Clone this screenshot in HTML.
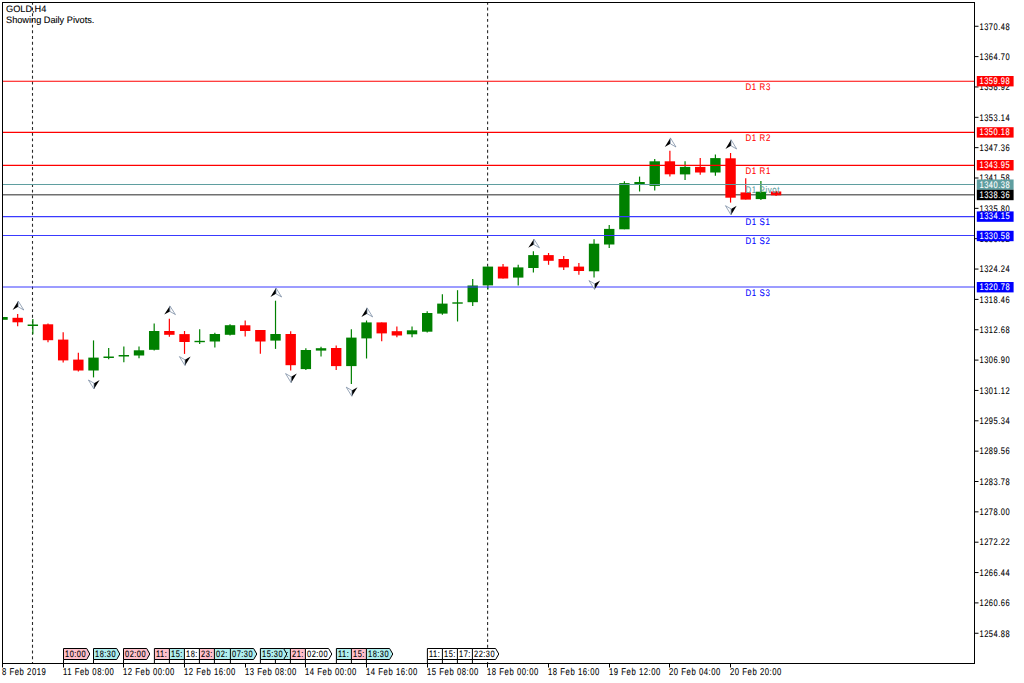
<!DOCTYPE html>
<html><head><meta charset="utf-8"><title>GOLD,H4</title>
<style>
html,body{margin:0;padding:0;background:#fff;}
body{width:1024px;height:683px;overflow:hidden;}
svg{display:block;}
text{font-family:"Liberation Sans", sans-serif;text-rendering:geometricPrecision;}
</style></head><body>
<svg width="1024" height="683" viewBox="0 0 1024 683">
<rect x="0" y="0" width="1024" height="683" fill="#fff"/>

<defs><clipPath id="ch"><rect x="3" y="3" width="971.0" height="660.0"/></clipPath></defs>
<g clip-path="url(#ch)">
<line x1="32.5" y1="3" x2="32.5" y2="663" stroke="#2a2a2a" stroke-width="1.1" stroke-dasharray="2.9 2.79" stroke-dashoffset="1.1"/>
<line x1="487.6" y1="3" x2="487.6" y2="663" stroke="#2a2a2a" stroke-width="1.1" stroke-dasharray="2.9 2.79" stroke-dashoffset="1.1"/>
<line x1="3" y1="194.8" x2="974.5" y2="194.8" stroke="#707070" stroke-width="1.5"/>
<line x1="2.50" y1="317.0" x2="2.50" y2="319.8" stroke="#008000" stroke-width="1.2"/>
<rect x="-2.70" y="317.0" width="10.40" height="2.80" fill="#008000"/>
<line x1="17.67" y1="314.0" x2="17.67" y2="326.3" stroke="#ff0000" stroke-width="1.2"/>
<rect x="12.47" y="317.8" width="10.40" height="4.50" fill="#ff0000"/>
<line x1="32.84" y1="319.0" x2="32.84" y2="334.3" stroke="#008000" stroke-width="1.2"/>
<rect x="27.64" y="324.5" width="10.40" height="1.50" fill="#008000"/>
<line x1="48.00" y1="323.5" x2="48.00" y2="342.3" stroke="#ff0000" stroke-width="1.2"/>
<rect x="42.80" y="324.3" width="10.40" height="15.90" fill="#ff0000"/>
<line x1="63.17" y1="332.2" x2="63.17" y2="362.5" stroke="#ff0000" stroke-width="1.2"/>
<rect x="57.97" y="339.6" width="10.40" height="20.80" fill="#ff0000"/>
<line x1="78.34" y1="352.8" x2="78.34" y2="371.6" stroke="#ff0000" stroke-width="1.2"/>
<rect x="73.14" y="359.6" width="10.40" height="10.90" fill="#ff0000"/>
<line x1="93.51" y1="340.4" x2="93.51" y2="377.4" stroke="#008000" stroke-width="1.2"/>
<rect x="88.31" y="357.6" width="10.40" height="12.90" fill="#008000"/>
<line x1="108.68" y1="348.0" x2="108.68" y2="359.2" stroke="#008000" stroke-width="1.2"/>
<rect x="103.48" y="356.5" width="10.40" height="1.50" fill="#008000"/>
<line x1="123.84" y1="346.4" x2="123.84" y2="362.2" stroke="#008000" stroke-width="1.2"/>
<rect x="118.64" y="355.0" width="10.40" height="1.50" fill="#008000"/>
<line x1="139.01" y1="346.4" x2="139.01" y2="358.2" stroke="#008000" stroke-width="1.2"/>
<rect x="133.81" y="350.3" width="10.40" height="5.20" fill="#008000"/>
<line x1="154.18" y1="323.4" x2="154.18" y2="350.6" stroke="#008000" stroke-width="1.2"/>
<rect x="148.98" y="331.0" width="10.40" height="18.80" fill="#008000"/>
<line x1="169.35" y1="318.8" x2="169.35" y2="336.7" stroke="#ff0000" stroke-width="1.2"/>
<rect x="164.15" y="331.0" width="10.40" height="3.80" fill="#ff0000"/>
<line x1="184.52" y1="331.0" x2="184.52" y2="353.9" stroke="#ff0000" stroke-width="1.2"/>
<rect x="179.32" y="334.1" width="10.40" height="7.90" fill="#ff0000"/>
<line x1="199.68" y1="329.2" x2="199.68" y2="344.1" stroke="#008000" stroke-width="1.2"/>
<rect x="194.48" y="340.8" width="10.40" height="1.40" fill="#008000"/>
<line x1="214.85" y1="332.7" x2="214.85" y2="347.6" stroke="#008000" stroke-width="1.2"/>
<rect x="209.65" y="334.0" width="10.40" height="7.50" fill="#008000"/>
<line x1="230.02" y1="324.3" x2="230.02" y2="335.5" stroke="#008000" stroke-width="1.2"/>
<rect x="224.82" y="325.2" width="10.40" height="9.60" fill="#008000"/>
<line x1="245.19" y1="320.4" x2="245.19" y2="336.6" stroke="#ff0000" stroke-width="1.2"/>
<rect x="239.99" y="325.3" width="10.40" height="5.70" fill="#ff0000"/>
<line x1="260.36" y1="330.0" x2="260.36" y2="353.8" stroke="#ff0000" stroke-width="1.2"/>
<rect x="255.16" y="330.0" width="10.40" height="11.50" fill="#ff0000"/>
<line x1="275.52" y1="300.7" x2="275.52" y2="348.9" stroke="#008000" stroke-width="1.2"/>
<rect x="270.32" y="334.0" width="10.40" height="6.60" fill="#008000"/>
<line x1="290.69" y1="331.3" x2="290.69" y2="370.5" stroke="#ff0000" stroke-width="1.2"/>
<rect x="285.49" y="334.0" width="10.40" height="31.20" fill="#ff0000"/>
<line x1="305.86" y1="348.2" x2="305.86" y2="370.0" stroke="#008000" stroke-width="1.2"/>
<rect x="300.66" y="350.0" width="10.40" height="19.10" fill="#008000"/>
<line x1="321.03" y1="346.8" x2="321.03" y2="356.4" stroke="#008000" stroke-width="1.2"/>
<rect x="315.83" y="348.2" width="10.40" height="2.40" fill="#008000"/>
<line x1="336.20" y1="345.4" x2="336.20" y2="370.0" stroke="#ff0000" stroke-width="1.2"/>
<rect x="331.00" y="348.0" width="10.40" height="18.10" fill="#ff0000"/>
<line x1="351.36" y1="329.2" x2="351.36" y2="384.0" stroke="#008000" stroke-width="1.2"/>
<rect x="346.16" y="337.6" width="10.40" height="28.50" fill="#008000"/>
<line x1="366.53" y1="320.5" x2="366.53" y2="358.5" stroke="#008000" stroke-width="1.2"/>
<rect x="361.33" y="322.4" width="10.40" height="16.00" fill="#008000"/>
<line x1="381.70" y1="322.4" x2="381.70" y2="341.2" stroke="#ff0000" stroke-width="1.2"/>
<rect x="376.50" y="322.4" width="10.40" height="11.00" fill="#ff0000"/>
<line x1="396.87" y1="326.4" x2="396.87" y2="337.3" stroke="#ff0000" stroke-width="1.2"/>
<rect x="391.67" y="331.2" width="10.40" height="4.30" fill="#ff0000"/>
<line x1="412.04" y1="326.4" x2="412.04" y2="337.3" stroke="#008000" stroke-width="1.2"/>
<rect x="406.84" y="330.3" width="10.40" height="4.00" fill="#008000"/>
<line x1="427.20" y1="311.3" x2="427.20" y2="332.4" stroke="#008000" stroke-width="1.2"/>
<rect x="422.00" y="313.0" width="10.40" height="18.70" fill="#008000"/>
<line x1="442.37" y1="294.3" x2="442.37" y2="314.8" stroke="#008000" stroke-width="1.2"/>
<rect x="437.17" y="303.6" width="10.40" height="10.00" fill="#008000"/>
<line x1="457.54" y1="290.2" x2="457.54" y2="321.5" stroke="#008000" stroke-width="1.2"/>
<rect x="452.34" y="302.3" width="10.40" height="1.40" fill="#008000"/>
<line x1="472.71" y1="279.0" x2="472.71" y2="306.0" stroke="#008000" stroke-width="1.2"/>
<rect x="467.51" y="285.5" width="10.40" height="16.70" fill="#008000"/>
<line x1="487.88" y1="266.6" x2="487.88" y2="289.4" stroke="#008000" stroke-width="1.2"/>
<rect x="482.68" y="266.6" width="10.40" height="18.80" fill="#008000"/>
<line x1="503.04" y1="263.9" x2="503.04" y2="278.5" stroke="#ff0000" stroke-width="1.2"/>
<rect x="497.84" y="266.6" width="10.40" height="11.90" fill="#ff0000"/>
<line x1="518.21" y1="264.8" x2="518.21" y2="285.4" stroke="#008000" stroke-width="1.2"/>
<rect x="513.01" y="267.4" width="10.40" height="10.20" fill="#008000"/>
<line x1="533.38" y1="251.3" x2="533.38" y2="272.4" stroke="#008000" stroke-width="1.2"/>
<rect x="528.18" y="255.1" width="10.40" height="12.90" fill="#008000"/>
<line x1="548.55" y1="253.0" x2="548.55" y2="264.8" stroke="#ff0000" stroke-width="1.2"/>
<rect x="543.35" y="255.1" width="10.40" height="5.70" fill="#ff0000"/>
<line x1="563.72" y1="256.0" x2="563.72" y2="270.0" stroke="#ff0000" stroke-width="1.2"/>
<rect x="558.52" y="259.0" width="10.40" height="8.40" fill="#ff0000"/>
<line x1="578.88" y1="263.0" x2="578.88" y2="274.8" stroke="#ff0000" stroke-width="1.2"/>
<rect x="573.68" y="266.6" width="10.40" height="4.40" fill="#ff0000"/>
<line x1="594.05" y1="239.3" x2="594.05" y2="277.6" stroke="#008000" stroke-width="1.2"/>
<rect x="588.85" y="243.7" width="10.40" height="27.60" fill="#008000"/>
<line x1="609.22" y1="224.9" x2="609.22" y2="248.1" stroke="#008000" stroke-width="1.2"/>
<rect x="604.02" y="228.9" width="10.40" height="15.60" fill="#008000"/>
<line x1="624.39" y1="181.3" x2="624.39" y2="229.3" stroke="#008000" stroke-width="1.2"/>
<rect x="619.19" y="183.1" width="10.40" height="46.20" fill="#008000"/>
<line x1="639.56" y1="176.6" x2="639.56" y2="191.5" stroke="#008000" stroke-width="1.2"/>
<rect x="634.36" y="182.0" width="10.40" height="2.00" fill="#008000"/>
<line x1="654.72" y1="159.0" x2="654.72" y2="190.6" stroke="#008000" stroke-width="1.2"/>
<rect x="649.52" y="161.3" width="10.40" height="24.60" fill="#008000"/>
<line x1="669.89" y1="150.7" x2="669.89" y2="176.6" stroke="#ff0000" stroke-width="1.2"/>
<rect x="664.69" y="161.3" width="10.40" height="13.00" fill="#ff0000"/>
<line x1="685.06" y1="161.3" x2="685.06" y2="180.1" stroke="#008000" stroke-width="1.2"/>
<rect x="679.86" y="166.9" width="10.40" height="7.50" fill="#008000"/>
<line x1="700.23" y1="158.1" x2="700.23" y2="174.8" stroke="#ff0000" stroke-width="1.2"/>
<rect x="695.03" y="166.9" width="10.40" height="5.60" fill="#ff0000"/>
<line x1="715.40" y1="154.6" x2="715.40" y2="175.7" stroke="#008000" stroke-width="1.2"/>
<rect x="710.20" y="158.1" width="10.40" height="14.40" fill="#008000"/>
<line x1="730.56" y1="153.0" x2="730.56" y2="202.6" stroke="#ff0000" stroke-width="1.2"/>
<rect x="725.36" y="158.3" width="10.40" height="39.40" fill="#ff0000"/>
<line x1="745.73" y1="178.3" x2="745.73" y2="199.6" stroke="#ff0000" stroke-width="1.2"/>
<rect x="740.53" y="192.4" width="10.40" height="7.20" fill="#ff0000"/>
<line x1="760.90" y1="181.1" x2="760.90" y2="199.9" stroke="#008000" stroke-width="1.2"/>
<rect x="755.70" y="191.7" width="10.40" height="7.40" fill="#008000"/>
<line x1="776.07" y1="191.0" x2="776.07" y2="196.0" stroke="#ff0000" stroke-width="1.2"/>
<rect x="770.87" y="191.5" width="10.40" height="3.80" fill="#ff0000"/>
<line x1="3" y1="81.2" x2="974.5" y2="81.2" stroke="#ff0000" stroke-width="1.1"/>
<line x1="3" y1="132.4" x2="974.5" y2="132.4" stroke="#ff0000" stroke-width="1.1"/>
<line x1="3" y1="165.4" x2="974.5" y2="165.4" stroke="#ff0000" stroke-width="1.1"/>
<line x1="3" y1="184.5" x2="974.5" y2="184.5" stroke="#5f9ea0" stroke-width="1.1"/>
<line x1="3" y1="216.6" x2="974.5" y2="216.6" stroke="#3a3aff" stroke-width="1.1"/>
<line x1="3" y1="235.5" x2="974.5" y2="235.5" stroke="#3a3aff" stroke-width="1.1"/>
<line x1="3" y1="287.0" x2="974.5" y2="287.0" stroke="#3a3aff" stroke-width="1.1"/>
<text transform="translate(745.50,89.70) scale(0.82,1)" font-size="9.6" fill="#ff0000" stroke="#ff0000" stroke-width="0.1" letter-spacing="0.75">D1 R3</text>
<text transform="translate(745.50,140.90) scale(0.82,1)" font-size="9.6" fill="#ff0000" stroke="#ff0000" stroke-width="0.1" letter-spacing="0.75">D1 R2</text>
<text transform="translate(745.50,173.90) scale(0.82,1)" font-size="9.6" fill="#ff0000" stroke="#ff0000" stroke-width="0.1" letter-spacing="0.75">D1 R1</text>
<text transform="translate(745.50,193.00) scale(0.82,1)" font-size="9.6" fill="#5f9ea0" stroke="#5f9ea0" stroke-width="0.1" letter-spacing="0.75">D1 Pivot</text>
<text transform="translate(745.50,225.10) scale(0.82,1)" font-size="9.6" fill="#0000ff" stroke="#0000ff" stroke-width="0.1" letter-spacing="0.75">D1 S1</text>
<text transform="translate(745.50,244.00) scale(0.82,1)" font-size="9.6" fill="#0000ff" stroke="#0000ff" stroke-width="0.1" letter-spacing="0.75">D1 S2</text>
<text transform="translate(745.50,295.50) scale(0.82,1)" font-size="9.6" fill="#0000ff" stroke="#0000ff" stroke-width="0.1" letter-spacing="0.75">D1 S3</text>
<path d="M18.17,301.00 L12.57,310.00 L18.17,306.80 Z" fill="#000"/>
<path d="M18.17,301.00 L23.77,310.00 L18.17,306.80 Z" fill="#fff" stroke="#6b7f9a" stroke-width="0.7"/>
<path d="M94.01,389.00 L99.61,380.00 L94.01,383.20 Z" fill="#000"/>
<path d="M94.01,389.00 L88.41,380.00 L94.01,383.20 Z" fill="#fff" stroke="#6b7f9a" stroke-width="0.7"/>
<path d="M169.85,305.90 L164.25,314.60 L169.85,311.40 Z" fill="#000"/>
<path d="M169.85,305.90 L175.45,314.60 L169.85,311.40 Z" fill="#fff" stroke="#6b7f9a" stroke-width="0.7"/>
<path d="M185.02,365.60 L190.62,356.60 L185.02,359.80 Z" fill="#000"/>
<path d="M185.02,365.60 L179.42,356.60 L185.02,359.80 Z" fill="#fff" stroke="#6b7f9a" stroke-width="0.7"/>
<path d="M276.02,288.00 L270.42,297.00 L276.02,293.80 Z" fill="#000"/>
<path d="M276.02,288.00 L281.62,297.00 L276.02,293.80 Z" fill="#fff" stroke="#6b7f9a" stroke-width="0.7"/>
<path d="M291.19,382.80 L296.79,373.60 L291.19,376.80 Z" fill="#000"/>
<path d="M291.19,382.80 L285.59,373.60 L291.19,376.80 Z" fill="#fff" stroke="#6b7f9a" stroke-width="0.7"/>
<path d="M351.86,396.30 L357.46,387.20 L351.86,390.40 Z" fill="#000"/>
<path d="M351.86,396.30 L346.26,387.20 L351.86,390.40 Z" fill="#fff" stroke="#6b7f9a" stroke-width="0.7"/>
<path d="M367.03,307.80 L361.43,316.90 L367.03,313.70 Z" fill="#000"/>
<path d="M367.03,307.80 L372.63,316.90 L367.03,313.70 Z" fill="#fff" stroke="#6b7f9a" stroke-width="0.7"/>
<path d="M533.88,239.00 L528.28,247.80 L533.88,244.60 Z" fill="#000"/>
<path d="M533.88,239.00 L539.48,247.80 L533.88,244.60 Z" fill="#fff" stroke="#6b7f9a" stroke-width="0.7"/>
<path d="M594.55,289.40 L600.15,280.60 L594.55,283.80 Z" fill="#000"/>
<path d="M594.55,289.40 L588.95,280.60 L594.55,283.80 Z" fill="#fff" stroke="#6b7f9a" stroke-width="0.7"/>
<path d="M670.39,137.90 L664.79,147.00 L670.39,143.80 Z" fill="#000"/>
<path d="M670.39,137.90 L675.99,147.00 L670.39,143.80 Z" fill="#fff" stroke="#6b7f9a" stroke-width="0.7"/>
<path d="M731.06,139.70 L725.46,149.00 L731.06,145.80 Z" fill="#000"/>
<path d="M731.06,139.70 L736.66,149.00 L731.06,145.80 Z" fill="#fff" stroke="#6b7f9a" stroke-width="0.7"/>
<path d="M731.06,214.90 L736.66,205.70 L731.06,208.90 Z" fill="#000"/>
<path d="M731.06,214.90 L725.46,205.70 L731.06,208.90 Z" fill="#fff" stroke="#6b7f9a" stroke-width="0.7"/>
</g>
<text transform="translate(6.00,12.00) scale(0.98,1)" font-size="9.4" fill="#000" stroke="#000" stroke-width="0.1">GOLD,H4</text>
<text transform="translate(6.00,22.60) scale(0.98,1)" font-size="9.4" fill="#000" stroke="#000" stroke-width="0.1">Showing Daily Pivots.</text>
<rect x="2.5" y="2.5" width="972.0" height="661.0" fill="none" stroke="#000" stroke-width="1"/>
<line x1="974.5" y1="26.25" x2="978.5" y2="26.25" stroke="#000" stroke-width="1"/>
<text transform="translate(979.50,29.50) scale(0.78,1)" font-size="9.6" fill="#000" stroke="#000" stroke-width="0.1" letter-spacing="0.65">1370.48</text>
<line x1="974.5" y1="56.60" x2="978.5" y2="56.60" stroke="#000" stroke-width="1"/>
<text transform="translate(979.50,59.85) scale(0.78,1)" font-size="9.6" fill="#000" stroke="#000" stroke-width="0.1" letter-spacing="0.65">1364.70</text>
<line x1="974.5" y1="86.95" x2="978.5" y2="86.95" stroke="#000" stroke-width="1"/>
<text transform="translate(979.50,90.20) scale(0.78,1)" font-size="9.6" fill="#000" stroke="#000" stroke-width="0.1" letter-spacing="0.65">1358.92</text>
<line x1="974.5" y1="117.30" x2="978.5" y2="117.30" stroke="#000" stroke-width="1"/>
<text transform="translate(979.50,120.55) scale(0.78,1)" font-size="9.6" fill="#000" stroke="#000" stroke-width="0.1" letter-spacing="0.65">1353.14</text>
<line x1="974.5" y1="147.65" x2="978.5" y2="147.65" stroke="#000" stroke-width="1"/>
<text transform="translate(979.50,150.90) scale(0.78,1)" font-size="9.6" fill="#000" stroke="#000" stroke-width="0.1" letter-spacing="0.65">1347.36</text>
<line x1="974.5" y1="178.00" x2="978.5" y2="178.00" stroke="#000" stroke-width="1"/>
<text transform="translate(979.50,181.25) scale(0.78,1)" font-size="9.6" fill="#000" stroke="#000" stroke-width="0.1" letter-spacing="0.65">1341.58</text>
<line x1="974.5" y1="208.35" x2="978.5" y2="208.35" stroke="#000" stroke-width="1"/>
<text transform="translate(979.50,211.60) scale(0.78,1)" font-size="9.6" fill="#000" stroke="#000" stroke-width="0.1" letter-spacing="0.65">1335.80</text>
<line x1="974.5" y1="238.70" x2="978.5" y2="238.70" stroke="#000" stroke-width="1"/>
<text transform="translate(979.50,241.95) scale(0.78,1)" font-size="9.6" fill="#000" stroke="#000" stroke-width="0.1" letter-spacing="0.65">1330.02</text>
<line x1="974.5" y1="269.05" x2="978.5" y2="269.05" stroke="#000" stroke-width="1"/>
<text transform="translate(979.50,272.30) scale(0.78,1)" font-size="9.6" fill="#000" stroke="#000" stroke-width="0.1" letter-spacing="0.65">1324.24</text>
<line x1="974.5" y1="299.40" x2="978.5" y2="299.40" stroke="#000" stroke-width="1"/>
<text transform="translate(979.50,302.65) scale(0.78,1)" font-size="9.6" fill="#000" stroke="#000" stroke-width="0.1" letter-spacing="0.65">1318.46</text>
<line x1="974.5" y1="329.75" x2="978.5" y2="329.75" stroke="#000" stroke-width="1"/>
<text transform="translate(979.50,333.00) scale(0.78,1)" font-size="9.6" fill="#000" stroke="#000" stroke-width="0.1" letter-spacing="0.65">1312.68</text>
<line x1="974.5" y1="360.10" x2="978.5" y2="360.10" stroke="#000" stroke-width="1"/>
<text transform="translate(979.50,363.35) scale(0.78,1)" font-size="9.6" fill="#000" stroke="#000" stroke-width="0.1" letter-spacing="0.65">1306.90</text>
<line x1="974.5" y1="390.45" x2="978.5" y2="390.45" stroke="#000" stroke-width="1"/>
<text transform="translate(979.50,393.70) scale(0.78,1)" font-size="9.6" fill="#000" stroke="#000" stroke-width="0.1" letter-spacing="0.65">1301.12</text>
<line x1="974.5" y1="420.80" x2="978.5" y2="420.80" stroke="#000" stroke-width="1"/>
<text transform="translate(979.50,424.05) scale(0.78,1)" font-size="9.6" fill="#000" stroke="#000" stroke-width="0.1" letter-spacing="0.65">1295.34</text>
<line x1="974.5" y1="451.15" x2="978.5" y2="451.15" stroke="#000" stroke-width="1"/>
<text transform="translate(979.50,454.40) scale(0.78,1)" font-size="9.6" fill="#000" stroke="#000" stroke-width="0.1" letter-spacing="0.65">1289.56</text>
<line x1="974.5" y1="481.50" x2="978.5" y2="481.50" stroke="#000" stroke-width="1"/>
<text transform="translate(979.50,484.75) scale(0.78,1)" font-size="9.6" fill="#000" stroke="#000" stroke-width="0.1" letter-spacing="0.65">1283.78</text>
<line x1="974.5" y1="511.85" x2="978.5" y2="511.85" stroke="#000" stroke-width="1"/>
<text transform="translate(979.50,515.10) scale(0.78,1)" font-size="9.6" fill="#000" stroke="#000" stroke-width="0.1" letter-spacing="0.65">1278.00</text>
<line x1="974.5" y1="542.20" x2="978.5" y2="542.20" stroke="#000" stroke-width="1"/>
<text transform="translate(979.50,545.45) scale(0.78,1)" font-size="9.6" fill="#000" stroke="#000" stroke-width="0.1" letter-spacing="0.65">1272.22</text>
<line x1="974.5" y1="572.55" x2="978.5" y2="572.55" stroke="#000" stroke-width="1"/>
<text transform="translate(979.50,575.80) scale(0.78,1)" font-size="9.6" fill="#000" stroke="#000" stroke-width="0.1" letter-spacing="0.65">1266.44</text>
<line x1="974.5" y1="602.90" x2="978.5" y2="602.90" stroke="#000" stroke-width="1"/>
<text transform="translate(979.50,606.15) scale(0.78,1)" font-size="9.6" fill="#000" stroke="#000" stroke-width="0.1" letter-spacing="0.65">1260.66</text>
<line x1="974.5" y1="633.25" x2="978.5" y2="633.25" stroke="#000" stroke-width="1"/>
<text transform="translate(979.50,636.50) scale(0.78,1)" font-size="9.6" fill="#000" stroke="#000" stroke-width="0.1" letter-spacing="0.65">1254.88</text>
<rect x="976.8" y="76.0" width="36.8" height="10.4" fill="#ff0000"/>
<text transform="translate(979.50,84.00) scale(0.78,1)" font-size="9.6" fill="#fff" stroke="#fff" stroke-width="0.1" letter-spacing="0.65">1359.98</text>
<rect x="976.8" y="127.2" width="36.8" height="10.4" fill="#ff0000"/>
<text transform="translate(979.50,135.20) scale(0.78,1)" font-size="9.6" fill="#fff" stroke="#fff" stroke-width="0.1" letter-spacing="0.65">1350.18</text>
<rect x="976.8" y="160.0" width="36.8" height="10.4" fill="#ff0000"/>
<text transform="translate(979.50,168.00) scale(0.78,1)" font-size="9.6" fill="#fff" stroke="#fff" stroke-width="0.1" letter-spacing="0.65">1343.95</text>
<rect x="976.8" y="179.5" width="36.8" height="10.4" fill="#5f9ea0"/>
<text transform="translate(979.50,187.50) scale(0.78,1)" font-size="9.6" fill="#fff" stroke="#fff" stroke-width="0.1" letter-spacing="0.65">1340.38</text>
<rect x="976.8" y="189.8" width="36.8" height="10.4" fill="#000"/>
<text transform="translate(979.50,197.80) scale(0.78,1)" font-size="9.6" fill="#fff" stroke="#fff" stroke-width="0.1" letter-spacing="0.65">1338.36</text>
<rect x="976.8" y="211.4" width="36.8" height="10.4" fill="#0000ff"/>
<text transform="translate(979.50,219.40) scale(0.78,1)" font-size="9.6" fill="#fff" stroke="#fff" stroke-width="0.1" letter-spacing="0.65">1334.15</text>
<rect x="976.8" y="230.8" width="36.8" height="10.4" fill="#0000ff"/>
<text transform="translate(979.50,238.80) scale(0.78,1)" font-size="9.6" fill="#fff" stroke="#fff" stroke-width="0.1" letter-spacing="0.65">1330.58</text>
<rect x="976.8" y="282.0" width="36.8" height="10.4" fill="#0000ff"/>
<text transform="translate(979.50,290.00) scale(0.78,1)" font-size="9.6" fill="#fff" stroke="#fff" stroke-width="0.1" letter-spacing="0.65">1320.78</text>
<line x1="2.5" y1="663.5" x2="2.5" y2="667.5" stroke="#000" stroke-width="1"/>
<text transform="translate(2.00,675.40) scale(0.77,1)" font-size="10.0" fill="#000" stroke="#000" stroke-width="0.1" letter-spacing="0.7">8 Feb 2019</text>
<line x1="63.5" y1="663.5" x2="63.5" y2="667.5" stroke="#000" stroke-width="1"/>
<text transform="translate(63.00,675.40) scale(0.77,1)" font-size="10.0" fill="#000" stroke="#000" stroke-width="0.1" letter-spacing="0.7">11 Feb 08:00</text>
<line x1="123.5" y1="663.5" x2="123.5" y2="667.5" stroke="#000" stroke-width="1"/>
<text transform="translate(123.00,675.40) scale(0.77,1)" font-size="10.0" fill="#000" stroke="#000" stroke-width="0.1" letter-spacing="0.7">12 Feb 00:00</text>
<line x1="184.5" y1="663.5" x2="184.5" y2="667.5" stroke="#000" stroke-width="1"/>
<text transform="translate(184.00,675.40) scale(0.77,1)" font-size="10.0" fill="#000" stroke="#000" stroke-width="0.1" letter-spacing="0.7">12 Feb 16:00</text>
<line x1="245.5" y1="663.5" x2="245.5" y2="667.5" stroke="#000" stroke-width="1"/>
<text transform="translate(245.00,675.40) scale(0.77,1)" font-size="10.0" fill="#000" stroke="#000" stroke-width="0.1" letter-spacing="0.7">13 Feb 08:00</text>
<line x1="305.5" y1="663.5" x2="305.5" y2="667.5" stroke="#000" stroke-width="1"/>
<text transform="translate(305.00,675.40) scale(0.77,1)" font-size="10.0" fill="#000" stroke="#000" stroke-width="0.1" letter-spacing="0.7">14 Feb 00:00</text>
<line x1="366.5" y1="663.5" x2="366.5" y2="667.5" stroke="#000" stroke-width="1"/>
<text transform="translate(366.00,675.40) scale(0.77,1)" font-size="10.0" fill="#000" stroke="#000" stroke-width="0.1" letter-spacing="0.7">14 Feb 16:00</text>
<line x1="427.5" y1="663.5" x2="427.5" y2="667.5" stroke="#000" stroke-width="1"/>
<text transform="translate(427.00,675.40) scale(0.77,1)" font-size="10.0" fill="#000" stroke="#000" stroke-width="0.1" letter-spacing="0.7">15 Feb 08:00</text>
<line x1="487.5" y1="663.5" x2="487.5" y2="667.5" stroke="#000" stroke-width="1"/>
<text transform="translate(487.00,675.40) scale(0.77,1)" font-size="10.0" fill="#000" stroke="#000" stroke-width="0.1" letter-spacing="0.7">18 Feb 00:00</text>
<line x1="548.5" y1="663.5" x2="548.5" y2="667.5" stroke="#000" stroke-width="1"/>
<text transform="translate(548.00,675.40) scale(0.77,1)" font-size="10.0" fill="#000" stroke="#000" stroke-width="0.1" letter-spacing="0.7">18 Feb 16:00</text>
<line x1="609.5" y1="663.5" x2="609.5" y2="667.5" stroke="#000" stroke-width="1"/>
<text transform="translate(609.00,675.40) scale(0.77,1)" font-size="10.0" fill="#000" stroke="#000" stroke-width="0.1" letter-spacing="0.7">19 Feb 12:00</text>
<line x1="669.5" y1="663.5" x2="669.5" y2="667.5" stroke="#000" stroke-width="1"/>
<text transform="translate(669.00,675.40) scale(0.77,1)" font-size="10.0" fill="#000" stroke="#000" stroke-width="0.1" letter-spacing="0.7">20 Feb 04:00</text>
<line x1="730.5" y1="663.5" x2="730.5" y2="667.5" stroke="#000" stroke-width="1"/>
<text transform="translate(730.00,675.40) scale(0.77,1)" font-size="10.0" fill="#000" stroke="#000" stroke-width="0.1" letter-spacing="0.7">20 Feb 20:00</text>
<path d="M275.4,648.5 L298.6,648.5 L301.8,654.0 L298.6,659.5 L275.4,659.5 Z" fill="#afeeee" stroke="#000" stroke-width="1"/>
<line x1="275.4" y1="659.5" x2="275.4" y2="663.5" stroke="#000" stroke-width="1"/>
<text transform="translate(277.05,657.20) scale(0.8,1)" font-size="9.3" fill="#000" stroke="#000" stroke-width="0.1" letter-spacing="0.6">00:</text>
<path d="M63.5,648.5 L86.7,648.5 L89.8,654.0 L86.7,659.5 L63.5,659.5 Z" fill="#ffc0cb" stroke="#000" stroke-width="1"/>
<line x1="63.5" y1="659.5" x2="63.5" y2="663.5" stroke="#000" stroke-width="1"/>
<text transform="translate(65.05,657.20) scale(0.8,1)" font-size="9.3" fill="#000" stroke="#000" stroke-width="0.1" letter-spacing="0.6">10:00</text>
<path d="M93.5,648.5 L116.7,648.5 L119.8,654.0 L116.7,659.5 L93.5,659.5 Z" fill="#afeeee" stroke="#000" stroke-width="1"/>
<line x1="93.5" y1="659.5" x2="93.5" y2="663.5" stroke="#000" stroke-width="1"/>
<text transform="translate(95.05,657.20) scale(0.8,1)" font-size="9.3" fill="#000" stroke="#000" stroke-width="0.1" letter-spacing="0.6">18:30</text>
<path d="M123.5,648.5 L146.7,648.5 L149.8,654.0 L146.7,659.5 L123.5,659.5 Z" fill="#ffc0cb" stroke="#000" stroke-width="1"/>
<line x1="123.5" y1="659.5" x2="123.5" y2="663.5" stroke="#000" stroke-width="1"/>
<text transform="translate(125.05,657.20) scale(0.8,1)" font-size="9.3" fill="#000" stroke="#000" stroke-width="0.1" letter-spacing="0.6">02:00</text>
<path d="M154.4,648.5 L177.6,648.5 L180.8,654.0 L177.6,659.5 L154.4,659.5 Z" fill="#ffc0cb" stroke="#000" stroke-width="1"/>
<line x1="154.4" y1="659.5" x2="154.4" y2="663.5" stroke="#000" stroke-width="1"/>
<text transform="translate(156.05,657.20) scale(0.8,1)" font-size="9.3" fill="#000" stroke="#000" stroke-width="0.1" letter-spacing="0.6">11:</text>
<path d="M169.4,648.5 L192.6,648.5 L195.8,654.0 L192.6,659.5 L169.4,659.5 Z" fill="#afeeee" stroke="#000" stroke-width="1"/>
<line x1="169.4" y1="659.5" x2="169.4" y2="663.5" stroke="#000" stroke-width="1"/>
<text transform="translate(171.05,657.20) scale(0.8,1)" font-size="9.3" fill="#000" stroke="#000" stroke-width="0.1" letter-spacing="0.6">15:</text>
<path d="M184.4,648.5 L207.6,648.5 L210.8,654.0 L207.6,659.5 L184.4,659.5 Z" fill="#ffffff" stroke="#000" stroke-width="1"/>
<line x1="184.4" y1="659.5" x2="184.4" y2="663.5" stroke="#000" stroke-width="1"/>
<text transform="translate(186.05,657.20) scale(0.8,1)" font-size="9.3" fill="#000" stroke="#000" stroke-width="0.1" letter-spacing="0.6">18:</text>
<path d="M199.4,648.5 L222.6,648.5 L225.8,654.0 L222.6,659.5 L199.4,659.5 Z" fill="#ffc0cb" stroke="#000" stroke-width="1"/>
<line x1="199.4" y1="659.5" x2="199.4" y2="663.5" stroke="#000" stroke-width="1"/>
<text transform="translate(201.05,657.20) scale(0.8,1)" font-size="9.3" fill="#000" stroke="#000" stroke-width="0.1" letter-spacing="0.6">23:</text>
<path d="M214.4,648.5 L237.6,648.5 L240.8,654.0 L237.6,659.5 L214.4,659.5 Z" fill="#afeeee" stroke="#000" stroke-width="1"/>
<line x1="214.4" y1="659.5" x2="214.4" y2="663.5" stroke="#000" stroke-width="1"/>
<text transform="translate(216.05,657.20) scale(0.8,1)" font-size="9.3" fill="#000" stroke="#000" stroke-width="0.1" letter-spacing="0.6">02:</text>
<path d="M230.4,648.5 L253.6,648.5 L256.8,654.0 L253.6,659.5 L230.4,659.5 Z" fill="#afeeee" stroke="#000" stroke-width="1"/>
<line x1="230.4" y1="659.5" x2="230.4" y2="663.5" stroke="#000" stroke-width="1"/>
<text transform="translate(232.05,657.20) scale(0.8,1)" font-size="9.3" fill="#000" stroke="#000" stroke-width="0.1" letter-spacing="0.6">07:30</text>
<path d="M260.4,648.5 L283.6,648.5 L286.8,654.0 L283.6,659.5 L260.4,659.5 Z" fill="#afeeee" stroke="#000" stroke-width="1"/>
<line x1="260.4" y1="659.5" x2="260.4" y2="663.5" stroke="#000" stroke-width="1"/>
<text transform="translate(262.05,657.20) scale(0.8,1)" font-size="9.3" fill="#000" stroke="#000" stroke-width="0.1" letter-spacing="0.6">15:30</text>
<path d="M290.4,648.5 L313.6,648.5 L316.8,654.0 L313.6,659.5 L290.4,659.5 Z" fill="#ffc0cb" stroke="#000" stroke-width="1"/>
<line x1="290.4" y1="659.5" x2="290.4" y2="663.5" stroke="#000" stroke-width="1"/>
<text transform="translate(292.05,657.20) scale(0.8,1)" font-size="9.3" fill="#000" stroke="#000" stroke-width="0.1" letter-spacing="0.6">21:</text>
<path d="M305.4,648.5 L328.6,648.5 L331.8,654.0 L328.6,659.5 L305.4,659.5 Z" fill="#ffffff" stroke="#000" stroke-width="1"/>
<line x1="305.4" y1="659.5" x2="305.4" y2="663.5" stroke="#000" stroke-width="1"/>
<text transform="translate(307.05,657.20) scale(0.8,1)" font-size="9.3" fill="#000" stroke="#000" stroke-width="0.1" letter-spacing="0.6">02:00</text>
<path d="M336.4,648.5 L359.6,648.5 L362.8,654.0 L359.6,659.5 L336.4,659.5 Z" fill="#afeeee" stroke="#000" stroke-width="1"/>
<line x1="336.4" y1="659.5" x2="336.4" y2="663.5" stroke="#000" stroke-width="1"/>
<text transform="translate(338.05,657.20) scale(0.8,1)" font-size="9.3" fill="#000" stroke="#000" stroke-width="0.1" letter-spacing="0.6">11:</text>
<path d="M351.4,648.5 L374.6,648.5 L377.8,654.0 L374.6,659.5 L351.4,659.5 Z" fill="#ffc0cb" stroke="#000" stroke-width="1"/>
<line x1="351.4" y1="659.5" x2="351.4" y2="663.5" stroke="#000" stroke-width="1"/>
<text transform="translate(353.05,657.20) scale(0.8,1)" font-size="9.3" fill="#000" stroke="#000" stroke-width="0.1" letter-spacing="0.6">15:</text>
<path d="M366.4,648.5 L389.6,648.5 L392.8,654.0 L389.6,659.5 L366.4,659.5 Z" fill="#afeeee" stroke="#000" stroke-width="1"/>
<line x1="366.4" y1="659.5" x2="366.4" y2="663.5" stroke="#000" stroke-width="1"/>
<text transform="translate(368.05,657.20) scale(0.8,1)" font-size="9.3" fill="#000" stroke="#000" stroke-width="0.1" letter-spacing="0.6">18:30</text>
<path d="M427.4,648.5 L450.6,648.5 L453.8,654.0 L450.6,659.5 L427.4,659.5 Z" fill="#ffffff" stroke="#000" stroke-width="1"/>
<line x1="427.4" y1="659.5" x2="427.4" y2="663.5" stroke="#000" stroke-width="1"/>
<text transform="translate(429.05,657.20) scale(0.8,1)" font-size="9.3" fill="#000" stroke="#000" stroke-width="0.1" letter-spacing="0.6">11:</text>
<path d="M442.4,648.5 L465.6,648.5 L468.8,654.0 L465.6,659.5 L442.4,659.5 Z" fill="#ffffff" stroke="#000" stroke-width="1"/>
<line x1="442.4" y1="659.5" x2="442.4" y2="663.5" stroke="#000" stroke-width="1"/>
<text transform="translate(444.05,657.20) scale(0.8,1)" font-size="9.3" fill="#000" stroke="#000" stroke-width="0.1" letter-spacing="0.6">15:</text>
<path d="M457.4,648.5 L480.6,648.5 L483.8,654.0 L480.6,659.5 L457.4,659.5 Z" fill="#ffffff" stroke="#000" stroke-width="1"/>
<line x1="457.4" y1="659.5" x2="457.4" y2="663.5" stroke="#000" stroke-width="1"/>
<text transform="translate(459.05,657.20) scale(0.8,1)" font-size="9.3" fill="#000" stroke="#000" stroke-width="0.1" letter-spacing="0.6">17:</text>
<path d="M472.4,648.5 L495.6,648.5 L498.8,654.0 L495.6,659.5 L472.4,659.5 Z" fill="#ffffff" stroke="#000" stroke-width="1"/>
<line x1="472.4" y1="659.5" x2="472.4" y2="663.5" stroke="#000" stroke-width="1"/>
<text transform="translate(474.05,657.20) scale(0.8,1)" font-size="9.3" fill="#000" stroke="#000" stroke-width="0.1" letter-spacing="0.6">22:30</text>
</svg>
</body></html>
